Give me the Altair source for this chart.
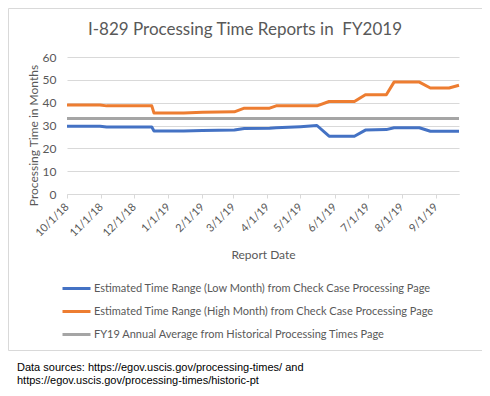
import altair as alt
import pandas as pd

TITLE = "I-829 Processing Time Reports in\u00a0 FY2019"
Y_TITLE = "Processing Time in Months"
X_TITLE = "Report Date"
SERIES = [
    "Estimated Time Range (Low Month) from Check Case Processing Page",
    "Estimated Time Range (High Month) from Check Case Processing Page",
    "FY19 Annual Average from Historical Processing Times Page",
]
COLORS = ["#4472C4", "#ED7D31", "#A5A5A5"]

# report dates and values
DATES = [
    "2018-10-01", "2018-10-31", "2018-11-06", "2018-12-17", "2018-12-19",
    "2019-01-15", "2019-02-01", "2019-03-02", "2019-03-11", "2019-04-03",
    "2019-04-09", "2019-05-01", "2019-05-16", "2019-05-27", "2019-06-19",
    "2019-06-29", "2019-07-18", "2019-07-25", "2019-08-17", "2019-08-27",
    "2019-09-13", "2019-09-22",
]
LOW = [
    29.7, 29.7, 29.3, 29.3, 27.6,
    27.6, 27.8, 28.0, 28.7, 28.8,
    29.0, 29.5, 30.0, 25.3, 25.3,
    28.0, 28.2, 29.0, 29.0, 27.5,
    27.5, 27.5,
]
HIGH = [
    39.0, 39.0, 38.6, 38.6, 35.5,
    35.5, 35.8, 36.0, 37.6, 37.6,
    38.6, 38.6, 38.6, 40.5, 40.5,
    43.5, 43.5, 49.0, 49.0, 46.4,
    46.4, 47.6,
]
AVG_DATES = ["2018-10-01", "2019-09-22"]
AVG = [33.1, 33.1]

TICK_MONTHS = [(2018, 10), (2018, 11), (2018, 12), (2019, 1), (2019, 2), (2019, 3),
               (2019, 4), (2019, 5), (2019, 6), (2019, 7), (2019, 8), (2019, 9)]
Y_TICKS = [0, 10, 20, 30, 40, 50, 60]
FOOTER = "Data sources: https://egov.uscis.gov/processing-times/ and\nhttps://egov.uscis.gov/processing-times/historic-pt"

rows = []
for d, v in zip(DATES, LOW):
    rows.append({"date": d + "T00:00", "value": v, "series": SERIES[0]})
for d, v in zip(DATES, HIGH):
    rows.append({"date": d + "T00:00", "value": v, "series": SERIES[1]})
for d, v in zip(AVG_DATES, AVG):
    rows.append({"date": d + "T00:00", "value": v, "series": SERIES[2]})
df = pd.DataFrame(rows)

FONT = "Lato"
GREY_TXT = "#595959"
W, H = 392, 137

tick_vals = [alt.DateTime(year=y, month=m, date=1) for y, m in TICK_MONTHS]

lines = alt.Chart(df).mark_line(strokeWidth=3, strokeJoin="round").encode(
    x=alt.X("date:T", title=X_TITLE,
            scale=alt.Scale(domain=[alt.DateTime(year=2018, month=10, date=1),
                                    alt.DateTime(year=2019, month=9, date=22)]),
            axis=alt.Axis(values=tick_vals, format="%-m/%-d/%y", labelAngle=-45,
                          labelAlign="right", labelBaseline="middle",
                          labelOverlap=False,
                          grid=False, domainColor="#d9d9d9", tickColor="#d9d9d9",
                          tickSize=4, labelPadding=7, labelFont=FONT, labelFontSize=11,
                          labelColor=GREY_TXT, titleFont=FONT, titleFontSize=12,
                          titleFontWeight="normal", titleColor=GREY_TXT,
                          titleY=60, titleBaseline="middle")),
    y=alt.Y("value:Q", title=Y_TITLE,
            scale=alt.Scale(domain=[0, 60]),
            axis=alt.Axis(values=Y_TICKS, domain=False, ticks=False, tickSize=0,
                          labelPadding=11, gridColor="#d9d9d9", labelFont=FONT,
                          labelFontSize=12, labelColor=GREY_TXT, titleFont=FONT,
                          titleFontSize=12, titleFontWeight="normal",
                          titleColor=GREY_TXT, titleX=-34, titleY=78,
                          titleBaseline="middle")),
    color=alt.Color("series:N", sort=SERIES,
                    scale=alt.Scale(domain=SERIES, range=COLORS),
                    legend=alt.Legend(orient="none", legendX=-6, legendY=216,
                                      direction="vertical", title=None,
                                      symbolType="stroke", symbolSize=784,
                                      symbolStrokeWidth=3, labelFont=FONT,
                                      labelFontSize=11, labelColor=GREY_TXT,
                                      labelLimit=0, labelOffset=2, rowPadding=1)),
    order=alt.Order("date:T"),
)

border = alt.Chart(alt.Data(values=[{}])).mark_rect(
    fillOpacity=0, stroke="#d9d9d9", strokeWidth=1
).encode(x=alt.value(-58.5), x2=alt.value(416), y=alt.value(-48.5), y2=alt.value(293.5))

title = alt.Chart(alt.Data(values=[{"t": TITLE}])).mark_text(
    align="center", baseline="middle", font=FONT, fontSize=17, color=GREY_TXT
).encode(x=alt.value(178), y=alt.value(-26.6), text="t:N")

footer = alt.Chart(alt.Data(values=[{"t": FOOTER}])).mark_text(
    align="left", baseline="middle", lineBreak="\n", lineHeight=13,
    font="Liberation Sans", fontSize=11, color="#000000"
).encode(x=alt.value(-50), y=alt.value(310.7), text="t:N")

chart = alt.layer(border, title, lines, footer).properties(
    width=W, height=H,
    autosize=alt.AutoSizeParams(type="none"),
    padding={"left": 59, "top": 49, "right": 23, "bottom": 205},
).configure_view(stroke=None)

chart.save("out.html", embed_options={"renderer": "svg", "actions": False})
